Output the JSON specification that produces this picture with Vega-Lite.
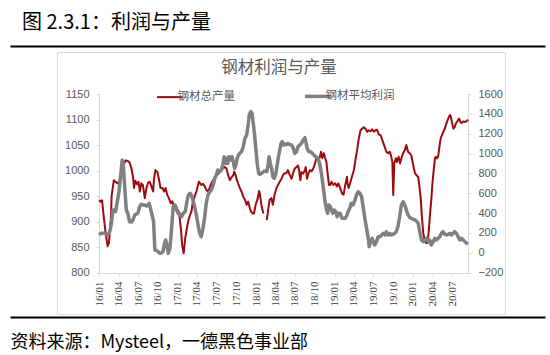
{
  "$schema": "https://vega.github.io/schema/vega-lite/v6.json",
  "background": "white",
  "width": 535,
  "height": 271,
  "autosize": {"type": "none"},
  "padding": {"left": 10, "top": 46, "right": 5, "bottom": 38},
  "title": {"text": "图 2.3.1：利润与产量", "anchor": "start", "frame": "group", "fontSize": 20, "font": "Noto Sans CJK SC", "fontWeight": "normal", "color": "#000000", "dx": 12, "dy": 23, "offset": 16, "baseline": "bottom"},
  "datasets": {
    "output": [
      {"d":"2016-01-01","v":942},{"d":"2016-01-09","v":939},{"d":"2016-01-15","v":942},{"d":"2016-01-24","v":906},{"d":"2016-02-02","v":874},{"d":"2016-02-10","v":852},{"d":"2016-02-16","v":858},{"d":"2016-02-25","v":906},{"d":"2016-02-29","v":952},{"d":"2016-03-10","v":981},{"d":"2016-03-18","v":978},{"d":"2016-03-28","v":975},{"d":"2016-04-06","v":980},{"d":"2016-04-15","v":990},{"d":"2016-04-24","v":1011},{"d":"2016-05-04","v":1020},{"d":"2016-05-13","v":1019},{"d":"2016-05-22","v":1016},{"d":"2016-05-30","v":1006},{"d":"2016-06-07","v":988},{"d":"2016-06-12","v":966},{"d":"2016-06-18","v":980},{"d":"2016-06-27","v":973},{"d":"2016-07-03","v":978},{"d":"2016-07-09","v":959},{"d":"2016-07-16","v":975},{"d":"2016-07-23","v":972},{"d":"2016-08-01","v":946},{"d":"2016-08-09","v":966},{"d":"2016-08-16","v":976},{"d":"2016-08-24","v":978},{"d":"2016-09-01","v":969},{"d":"2016-09-09","v":959},{"d":"2016-09-13","v":985},{"d":"2016-09-20","v":1001},{"d":"2016-09-29","v":997},{"d":"2016-10-05","v":985},{"d":"2016-10-13","v":966},{"d":"2016-10-22","v":966},{"d":"2016-10-30","v":959},{"d":"2016-11-06","v":966},{"d":"2016-11-13","v":953},{"d":"2016-11-21","v":946},{"d":"2016-11-30","v":936},{"d":"2016-12-07","v":940},{"d":"2016-12-14","v":930},{"d":"2016-12-22","v":933},{"d":"2016-12-30","v":925},
      {"d":"2017-01-07","v":919},{"d":"2017-01-16","v":887},{"d":"2017-01-22","v":854},{"d":"2017-01-29","v":838},{"d":"2017-02-05","v":867},{"d":"2017-02-13","v":887},{"d":"2017-02-20","v":903},{"d":"2017-02-28","v":913},{"d":"2017-03-06","v":920},{"d":"2017-03-13","v":939},{"d":"2017-03-29","v":959},{"d":"2017-04-10","v":978},{"d":"2017-04-21","v":972},{"d":"2017-04-29","v":974},{"d":"2017-05-07","v":969},{"d":"2017-05-14","v":962},{"d":"2017-05-22","v":959},{"d":"2017-05-30","v":966},{"d":"2017-06-07","v":975},{"d":"2017-06-15","v":981},{"d":"2017-06-23","v":987},{"d":"2017-06-30","v":991},{"d":"2017-07-07","v":993},{"d":"2017-07-15","v":997},{"d":"2017-07-23","v":1001},{"d":"2017-07-30","v":1004},{"d":"2017-08-08","v":1007},{"d":"2017-08-16","v":1004},{"d":"2017-08-24","v":991},{"d":"2017-09-01","v":981},{"d":"2017-09-09","v":987},{"d":"2017-09-17","v":991},{"d":"2017-09-21","v":998},{"d":"2017-09-28","v":991},{"d":"2017-10-02","v":984},{"d":"2017-10-09","v":975},{"d":"2017-10-17","v":966},{"d":"2017-10-25","v":959},{"d":"2017-11-02","v":949},{"d":"2017-11-10","v":943},{"d":"2017-11-18","v":933},{"d":"2017-11-25","v":939},{"d":"2017-12-03","v":926},{"d":"2017-12-08","v":920},{"d":"2017-12-16","v":916},{"d":"2017-12-22","v":916},{"d":"2017-12-30","v":933},
      {"d":"2018-01-07","v":943},{"d":"2018-01-15","v":960},{"d":"2018-01-19","v":953},{"d":"2018-01-27","v":929},{"d":"2018-02-04","v":916},{"d":"2018-02-12","v":null},{"d":"2018-02-20","v":903},{"d":"2018-02-27","v":926},{"d":"2018-03-05","v":943},{"d":"2018-03-13","v":946},{"d":"2018-03-20","v":933},{"d":"2018-03-28","v":953},{"d":"2018-04-06","v":966},{"d":"2018-04-13","v":972},{"d":"2018-04-21","v":978},{"d":"2018-04-29","v":984},{"d":"2018-05-06","v":991},{"d":"2018-05-14","v":995},{"d":"2018-05-22","v":995},{"d":"2018-05-29","v":1001},{"d":"2018-06-07","v":991},{"d":"2018-06-15","v":984},{"d":"2018-06-22","v":995},{"d":"2018-06-30","v":1004},{"d":"2018-07-08","v":1007},{"d":"2018-07-15","v":1010},{"d":"2018-07-20","v":1001},{"d":"2018-07-26","v":981},{"d":"2018-07-31","v":997},{"d":"2018-08-08","v":994},{"d":"2018-08-16","v":1001},{"d":"2018-08-20","v":1007},{"d":"2018-08-26","v":984},{"d":"2018-09-01","v":994},{"d":"2018-09-09","v":1001},{"d":"2018-09-17","v":999},{"d":"2018-09-24","v":1004},{"d":"2018-10-02","v":1014},{"d":"2018-10-10","v":1027},{"d":"2018-10-17","v":1020},{"d":"2018-10-25","v":1027},{"d":"2018-10-30","v":1037},{"d":"2018-11-05","v":1024},{"d":"2018-11-12","v":1034},{"d":"2018-11-18","v":1025},{"d":"2018-11-24","v":1017},{"d":"2018-11-30","v":994},{"d":"2018-12-06","v":972},{"d":"2018-12-12","v":972},{"d":"2018-12-18","v":978},{"d":"2018-12-26","v":972},
      {"d":"2019-01-04","v":975},{"d":"2019-01-12","v":969},{"d":"2019-01-19","v":975},{"d":"2019-01-27","v":966},{"d":"2019-02-05","v":955},{"d":"2019-02-12","v":953},{"d":"2019-02-20","v":972},{"d":"2019-02-28","v":988},{"d":"2019-03-02","v":975},{"d":"2019-03-08","v":966},{"d":"2019-03-16","v":978},{"d":"2019-03-23","v":988},{"d":"2019-04-01","v":1001},{"d":"2019-04-09","v":1023},{"d":"2019-04-16","v":1040},{"d":"2019-04-24","v":1063},{"d":"2019-05-02","v":1079},{"d":"2019-05-09","v":1082},{"d":"2019-05-17","v":1085},{"d":"2019-05-25","v":1082},{"d":"2019-06-02","v":1076},{"d":"2019-06-10","v":1079},{"d":"2019-06-18","v":1077},{"d":"2019-06-25","v":1081},{"d":"2019-07-03","v":1076},{"d":"2019-07-11","v":1079},{"d":"2019-07-18","v":1080},{"d":"2019-07-26","v":1071},{"d":"2019-08-04","v":1069},{"d":"2019-08-11","v":1060},{"d":"2019-08-22","v":1047},{"d":"2019-08-30","v":1037},{"d":"2019-09-07","v":1034},{"d":"2019-09-15","v":1037},{"d":"2019-09-22","v":1027},{"d":"2019-09-27","v":1017},{"d":"2019-10-01","v":952},{"d":"2019-10-06","v":1014},{"d":"2019-10-13","v":1024},{"d":"2019-10-18","v":1017},{"d":"2019-10-26","v":1027},{"d":"2019-11-02","v":1014},{"d":"2019-11-08","v":1024},{"d":"2019-11-16","v":1034},{"d":"2019-11-24","v":1040},{"d":"2019-12-01","v":1050},{"d":"2019-12-09","v":1037},{"d":"2019-12-17","v":1034},{"d":"2019-12-24","v":1030},
      {"d":"2020-01-02","v":1011},{"d":"2020-01-10","v":995},{"d":"2020-01-17","v":991},{"d":"2020-01-25","v":988},{"d":"2020-01-30","v":972},{"d":"2020-02-06","v":946},{"d":"2020-02-12","v":906},{"d":"2020-02-18","v":877},{"d":"2020-02-26","v":861},{"d":"2020-03-03","v":858},{"d":"2020-03-08","v":858},{"d":"2020-03-14","v":880},{"d":"2020-03-20","v":913},{"d":"2020-03-26","v":942},{"d":"2020-03-31","v":972},{"d":"2020-04-07","v":1004},{"d":"2020-04-12","v":1024},{"d":"2020-04-16","v":1027},{"d":"2020-04-21","v":1024},{"d":"2020-04-27","v":1027},{"d":"2020-05-03","v":1047},{"d":"2020-05-09","v":1063},{"d":"2020-05-15","v":1070},{"d":"2020-05-21","v":1076},{"d":"2020-05-28","v":1082},{"d":"2020-06-05","v":1093},{"d":"2020-06-13","v":1102},{"d":"2020-06-21","v":1109},{"d":"2020-06-25","v":1106},{"d":"2020-07-01","v":1093},{"d":"2020-07-07","v":1082},{"d":"2020-07-13","v":1085},{"d":"2020-07-19","v":1093},{"d":"2020-07-25","v":1096},{"d":"2020-08-02","v":1102},{"d":"2020-08-08","v":1096},{"d":"2020-08-14","v":1093},{"d":"2020-08-22","v":1096},{"d":"2020-08-30","v":1095},{"d":"2020-09-07","v":1097},{"d":"2020-09-13","v":1100}
    ],
    "profit": [
      {"d":"2016-01-01","v":180},{"d":"2016-01-11","v":197},{"d":"2016-01-27","v":197},{"d":"2016-02-10","v":180},{"d":"2016-02-20","v":213},{"d":"2016-02-28","v":298},{"d":"2016-03-05","v":432},{"d":"2016-03-13","v":432},{"d":"2016-03-18","v":415},{"d":"2016-03-25","v":499},{"d":"2016-04-03","v":616},{"d":"2016-04-11","v":784},{"d":"2016-04-18","v":935},{"d":"2016-04-23","v":900},{"d":"2016-04-29","v":683},{"d":"2016-05-07","v":432},{"d":"2016-05-14","v":398},{"d":"2016-05-22","v":314},{"d":"2016-05-30","v":310},{"d":"2016-06-07","v":331},{"d":"2016-06-15","v":381},{"d":"2016-06-23","v":390},{"d":"2016-06-30","v":400},{"d":"2016-07-08","v":465},{"d":"2016-07-16","v":490},{"d":"2016-07-23","v":482},{"d":"2016-08-01","v":482},{"d":"2016-08-09","v":470},{"d":"2016-08-16","v":482},{"d":"2016-08-21","v":499},{"d":"2016-08-27","v":450},{"d":"2016-09-04","v":381},{"d":"2016-09-11","v":314},{"d":"2016-09-17","v":29},{"d":"2016-09-24","v":25},{"d":"2016-10-02","v":12},{"d":"2016-10-10","v":-5},{"d":"2016-10-18","v":0},{"d":"2016-10-25","v":12},{"d":"2016-10-30","v":79},{"d":"2016-11-06","v":129},{"d":"2016-11-12","v":79},{"d":"2016-11-18","v":-5},{"d":"2016-11-26","v":45},{"d":"2016-12-04","v":247},{"d":"2016-12-11","v":465},{"d":"2016-12-19","v":482},{"d":"2016-12-27","v":432},
      {"d":"2017-01-04","v":398},{"d":"2017-01-12","v":390},{"d":"2017-01-19","v":364},{"d":"2017-01-27","v":398},{"d":"2017-02-05","v":415},{"d":"2017-02-13","v":515},{"d":"2017-02-20","v":583},{"d":"2017-02-28","v":600},{"d":"2017-03-06","v":583},{"d":"2017-03-13","v":532},{"d":"2017-03-21","v":465},{"d":"2017-03-29","v":381},{"d":"2017-04-06","v":280},{"d":"2017-04-13","v":197},{"d":"2017-04-21","v":163},{"d":"2017-04-29","v":247},{"d":"2017-05-07","v":364},{"d":"2017-05-14","v":499},{"d":"2017-05-22","v":583},{"d":"2017-05-30","v":616},{"d":"2017-06-07","v":633},{"d":"2017-06-15","v":683},{"d":"2017-06-23","v":751},{"d":"2017-06-30","v":784},{"d":"2017-07-07","v":834},{"d":"2017-07-15","v":818},{"d":"2017-07-23","v":834},{"d":"2017-07-30","v":885},{"d":"2017-08-05","v":969},{"d":"2017-08-12","v":901},{"d":"2017-08-16","v":952},{"d":"2017-08-22","v":901},{"d":"2017-08-28","v":969},{"d":"2017-09-05","v":935},{"d":"2017-09-11","v":969},{"d":"2017-09-17","v":918},{"d":"2017-09-23","v":851},{"d":"2017-09-29","v":885},{"d":"2017-10-05","v":952},{"d":"2017-10-11","v":986},{"d":"2017-10-17","v":1002},{"d":"2017-10-25","v":1019},{"d":"2017-11-02","v":1069},{"d":"2017-11-10","v":1153},{"d":"2017-11-18","v":1187},{"d":"2017-11-25","v":1288},{"d":"2017-11-30","v":1388},{"d":"2017-12-07","v":1422},{"d":"2017-12-13","v":1405},{"d":"2017-12-18","v":1321},{"d":"2017-12-25","v":1187},
      {"d":"2018-01-01","v":1019},{"d":"2018-01-07","v":885},{"d":"2018-01-13","v":801},{"d":"2018-01-19","v":790},{"d":"2018-01-27","v":801},{"d":"2018-02-04","v":818},{"d":"2018-02-12","v":825},{"d":"2018-02-20","v":818},{"d":"2018-02-27","v":901},{"d":"2018-03-02","v":969},{"d":"2018-03-08","v":901},{"d":"2018-03-14","v":851},{"d":"2018-03-20","v":767},{"d":"2018-03-27","v":751},{"d":"2018-04-03","v":801},{"d":"2018-04-09","v":885},{"d":"2018-04-15","v":969},{"d":"2018-04-21","v":1036},{"d":"2018-04-27","v":1103},{"d":"2018-05-03","v":1120},{"d":"2018-05-09","v":1086},{"d":"2018-05-15","v":1093},{"d":"2018-05-22","v":1090},{"d":"2018-05-29","v":1103},{"d":"2018-06-07","v":1090},{"d":"2018-06-15","v":1086},{"d":"2018-06-22","v":1060},{"d":"2018-06-30","v":1002},{"d":"2018-07-08","v":1019},{"d":"2018-07-15","v":1069},{"d":"2018-07-23","v":1086},{"d":"2018-07-31","v":1103},{"d":"2018-08-08","v":1136},{"d":"2018-08-16","v":1160},{"d":"2018-08-22","v":1103},{"d":"2018-08-26","v":1053},{"d":"2018-09-04","v":1019},{"d":"2018-09-12","v":1019},{"d":"2018-09-19","v":1002},{"d":"2018-09-27","v":986},{"d":"2018-10-05","v":969},{"d":"2018-10-12","v":960},{"d":"2018-10-17","v":952},{"d":"2018-10-25","v":885},{"d":"2018-11-02","v":784},{"d":"2018-11-10","v":650},{"d":"2018-11-18","v":515},{"d":"2018-11-25","v":432},{"d":"2018-11-30","v":398},{"d":"2018-12-06","v":482},{"d":"2018-12-12","v":465},{"d":"2018-12-18","v":432},{"d":"2018-12-24","v":398},{"d":"2018-12-30","v":432},
      {"d":"2019-01-07","v":415},{"d":"2019-01-13","v":364},{"d":"2019-01-19","v":398},{"d":"2019-01-27","v":398},{"d":"2019-02-05","v":348},{"d":"2019-02-12","v":348},{"d":"2019-02-20","v":348},{"d":"2019-02-28","v":381},{"d":"2019-03-05","v":415},{"d":"2019-03-13","v":449},{"d":"2019-03-20","v":499},{"d":"2019-03-28","v":482},{"d":"2019-04-06","v":532},{"d":"2019-04-13","v":583},{"d":"2019-04-21","v":616},{"d":"2019-04-29","v":600},{"d":"2019-05-07","v":566},{"d":"2019-05-14","v":465},{"d":"2019-05-22","v":348},{"d":"2019-05-30","v":247},{"d":"2019-06-07","v":146},{"d":"2019-06-11","v":62},{"d":"2019-06-18","v":112},{"d":"2019-06-25","v":146},{"d":"2019-07-01","v":112},{"d":"2019-07-07","v":79},{"d":"2019-07-15","v":112},{"d":"2019-07-23","v":163},{"d":"2019-07-31","v":163},{"d":"2019-08-08","v":180},{"d":"2019-08-16","v":197},{"d":"2019-08-24","v":180},{"d":"2019-08-30","v":213},{"d":"2019-09-07","v":180},{"d":"2019-09-15","v":197},{"d":"2019-09-22","v":180},{"d":"2019-09-30","v":187},{"d":"2019-10-08","v":197},{"d":"2019-10-15","v":213},{"d":"2019-10-23","v":263},{"d":"2019-10-31","v":364},{"d":"2019-11-08","v":482},{"d":"2019-11-16","v":515},{"d":"2019-11-24","v":482},{"d":"2019-12-01","v":432},{"d":"2019-12-09","v":381},{"d":"2019-12-17","v":355},{"d":"2019-12-24","v":348},
      {"d":"2020-01-02","v":338},{"d":"2020-01-10","v":331},{"d":"2020-01-17","v":321},{"d":"2020-01-25","v":298},{"d":"2020-02-03","v":197},{"d":"2020-02-10","v":129},{"d":"2020-02-18","v":112},{"d":"2020-02-26","v":129},{"d":"2020-03-03","v":146},{"d":"2020-03-11","v":112},{"d":"2020-03-19","v":129},{"d":"2020-03-26","v":79},{"d":"2020-04-04","v":112},{"d":"2020-04-12","v":146},{"d":"2020-04-19","v":129},{"d":"2020-04-27","v":146},{"d":"2020-05-05","v":163},{"d":"2020-05-12","v":197},{"d":"2020-05-20","v":213},{"d":"2020-05-28","v":187},{"d":"2020-06-05","v":180},{"d":"2020-06-13","v":187},{"d":"2020-06-21","v":197},{"d":"2020-06-28","v":180},{"d":"2020-07-06","v":197},{"d":"2020-07-13","v":213},{"d":"2020-07-21","v":197},{"d":"2020-07-29","v":163},{"d":"2020-08-07","v":129},{"d":"2020-08-14","v":146},{"d":"2020-08-22","v":129},{"d":"2020-08-30","v":112},{"d":"2020-09-07","v":96},{"d":"2020-09-13","v":90}
    ]
  },
  "layer": [
    {
      "data": {"values": [{"a": 0}, {"a": 1}]},
      "mark": {"type": "point", "opacity": 0},
      "encoding": {
        "x": {"field": "a", "type": "quantitative", "scale": {"domain": [0, 1], "range": [0, 535]},
          "axis": {"orient": "top", "domainColor": "#000000", "domainWidth": 2, "ticks": false, "labels": false, "title": null, "grid": false}},
        "y": {"field": "a", "type": "quantitative", "scale": {"domain": [0, 1], "range": [268, 6]},
          "axis": {"orient": "left", "offset": -47, "domainColor": "#D9D9D9", "ticks": false, "labels": false, "title": null, "grid": false}}
      }
    },
    {
      "data": {"values": [{"a": 0}, {"a": 1}]},
      "mark": {"type": "point", "opacity": 0},
      "encoding": {
        "x": {"field": "a", "type": "quantitative", "scale": {"domain": [0, 1], "range": [0, 535]},
          "axis": {"orient": "bottom", "domainColor": "#000000", "domainWidth": 2, "ticks": false, "labels": false, "grid": false,
            "title": "资料来源：Mysteel，一德黑色事业部", "titleAnchor": "start", "titleAlign": "left", "titleBaseline": "top", "titlePadding": 16,
            "titleFont": "Noto Sans CJK SC", "titleFontSize": 18, "titleFontWeight": "normal", "titleColor": "#000000"}},
        "y": {"field": "a", "type": "quantitative", "scale": {"domain": [0, 1], "range": [268, 6]},
          "axis": {"orient": "right", "offset": -40, "domainColor": "#D9D9D9", "ticks": false, "labels": false, "title": null, "grid": false}}
      }
    },
    {
      "data": {"values": [{"a": 0}, {"a": 1}]},
      "mark": {"type": "point", "opacity": 0},
      "encoding": {
        "x": {"field": "a", "type": "quantitative", "scale": {"domain": [0, 1], "range": [47, 495]},
          "axis": {"orient": "top", "offset": -6, "domainColor": "#D9D9D9", "ticks": false, "labels": false, "title": null, "grid": false}}
      }
    },
    {
      "data": {"values": [{"a": 0}, {"a": 1}]},
      "mark": {"type": "point", "opacity": 0},
      "encoding": {
        "x": {"field": "a", "type": "quantitative", "scale": {"domain": [0, 1], "range": [47, 495]},
          "axis": {"orient": "bottom", "offset": -3, "domainColor": "#D9D9D9", "ticks": false, "labels": false, "title": null, "grid": false}}
      }
    },
    {
      "data": {"name": "output"},
      "mark": {"type": "line", "strokeWidth": 2, "strokeJoin": "round", "invalid": "break-paths-show-domains"},
      "encoding": {
        "x": {"field": "d", "type": "temporal",
          "scale": {"type": "utc", "domain": [{"year": 2016, "month": 1, "date": 1, "utc": true}, {"year": 2020, "month": 9, "date": 13, "utc": true}], "range": [89, 458]},
          "axis": {"orient": "bottom", "offset": -44, "title": null, "format": "%y/%m", "labelAngle": -90, "labelAlign": "right", "labelBaseline": "middle", "labelFont": "Liberation Serif", "labelFontSize": 11, "labelColor": "#404040", "labelPadding": 5, "tickSize": 3, "labelOverlap": false, "grid": false,
            "values": [
              {"year":2016,"month":1,"date":1,"utc":true},{"year":2016,"month":4,"date":1,"utc":true},{"year":2016,"month":7,"date":1,"utc":true},{"year":2016,"month":10,"date":1,"utc":true},
              {"year":2017,"month":1,"date":1,"utc":true},{"year":2017,"month":4,"date":1,"utc":true},{"year":2017,"month":7,"date":1,"utc":true},{"year":2017,"month":10,"date":1,"utc":true},
              {"year":2018,"month":1,"date":1,"utc":true},{"year":2018,"month":4,"date":1,"utc":true},{"year":2018,"month":7,"date":1,"utc":true},{"year":2018,"month":10,"date":1,"utc":true},
              {"year":2019,"month":1,"date":1,"utc":true},{"year":2019,"month":4,"date":1,"utc":true},{"year":2019,"month":7,"date":1,"utc":true},{"year":2019,"month":10,"date":1,"utc":true},
              {"year":2020,"month":1,"date":1,"utc":true},{"year":2020,"month":4,"date":1,"utc":true},{"year":2020,"month":7,"date":1,"utc":true}
            ]}},
        "y": {"field": "v", "type": "quantitative",
          "scale": {"domain": [800, 1150], "range": [226.7, 48], "nice": false, "zero": false},
          "axis": {"orient": "left", "offset": -89, "title": null, "format": "d", "values": [800, 850, 900, 950, 1000, 1050, 1100, 1150], "tickSize": 3, "labelPadding": 7, "grid": false}},
        "color": {"datum": "钢材总产量", "type": "nominal",
          "scale": {"domain": ["钢材总产量", "钢材平均利润"], "range": ["#9E0B0F", "#808080"]},
          "legend": {"orient": "none", "legendX": 154, "legendY": 14, "padding": 0, "direction": "horizontal",
            "title": "钢材利润与产量", "titleAnchor": "middle", "titleFont": "Noto Sans CJK SC", "titleFontSize": 16.5, "titleFontWeight": "normal", "titleColor": "#595959", "titlePadding": 14, "titleLimit": 300,
            "symbolType": "stroke", "symbolSize": 650, "symbolStrokeWidth": 2.5,
            "labelFont": "Noto Sans CJK SC", "labelFontSize": 11.5, "labelColor": "#595959", "labelOffset": 2, "columnPadding": 63,
            "encode": {"symbols": {"update": {"strokeWidth": {"signal": "datum.value === '钢材平均利润' ? 3.5 : 2"}}}}}}
      }
    },
    {
      "data": {"name": "profit"},
      "mark": {"type": "line", "strokeWidth": 3.5, "strokeJoin": "round"},
      "encoding": {
        "x": {"field": "d", "type": "temporal",
          "scale": {"type": "utc", "domain": [{"year": 2016, "month": 1, "date": 1, "utc": true}, {"year": 2020, "month": 9, "date": 13, "utc": true}], "range": [89, 458]},
          "axis": null},
        "y": {"field": "v", "type": "quantitative",
          "scale": {"domain": [-200, 1600], "range": [226.7, 48], "nice": false, "zero": false},
          "axis": {"orient": "right", "offset": -77, "title": null, "format": "d", "values": [-200, 0, 200, 400, 600, 800, 1000, 1200, 1400, 1600], "tickSize": 3, "labelPadding": 7, "grid": false}},
        "color": {"datum": "钢材平均利润", "type": "nominal"}
      }
    }
  ],
  "resolve": {"scale": {"x": "independent", "y": "independent"}},
  "config": {
    "view": {"stroke": null},
    "font": "Liberation Sans",
    "axis": {"grid": false, "domainColor": "#D9D9D9", "tickColor": "#D9D9D9", "labelColor": "#595959", "labelFontSize": 11, "labelFont": "Liberation Sans"}
  }
}
